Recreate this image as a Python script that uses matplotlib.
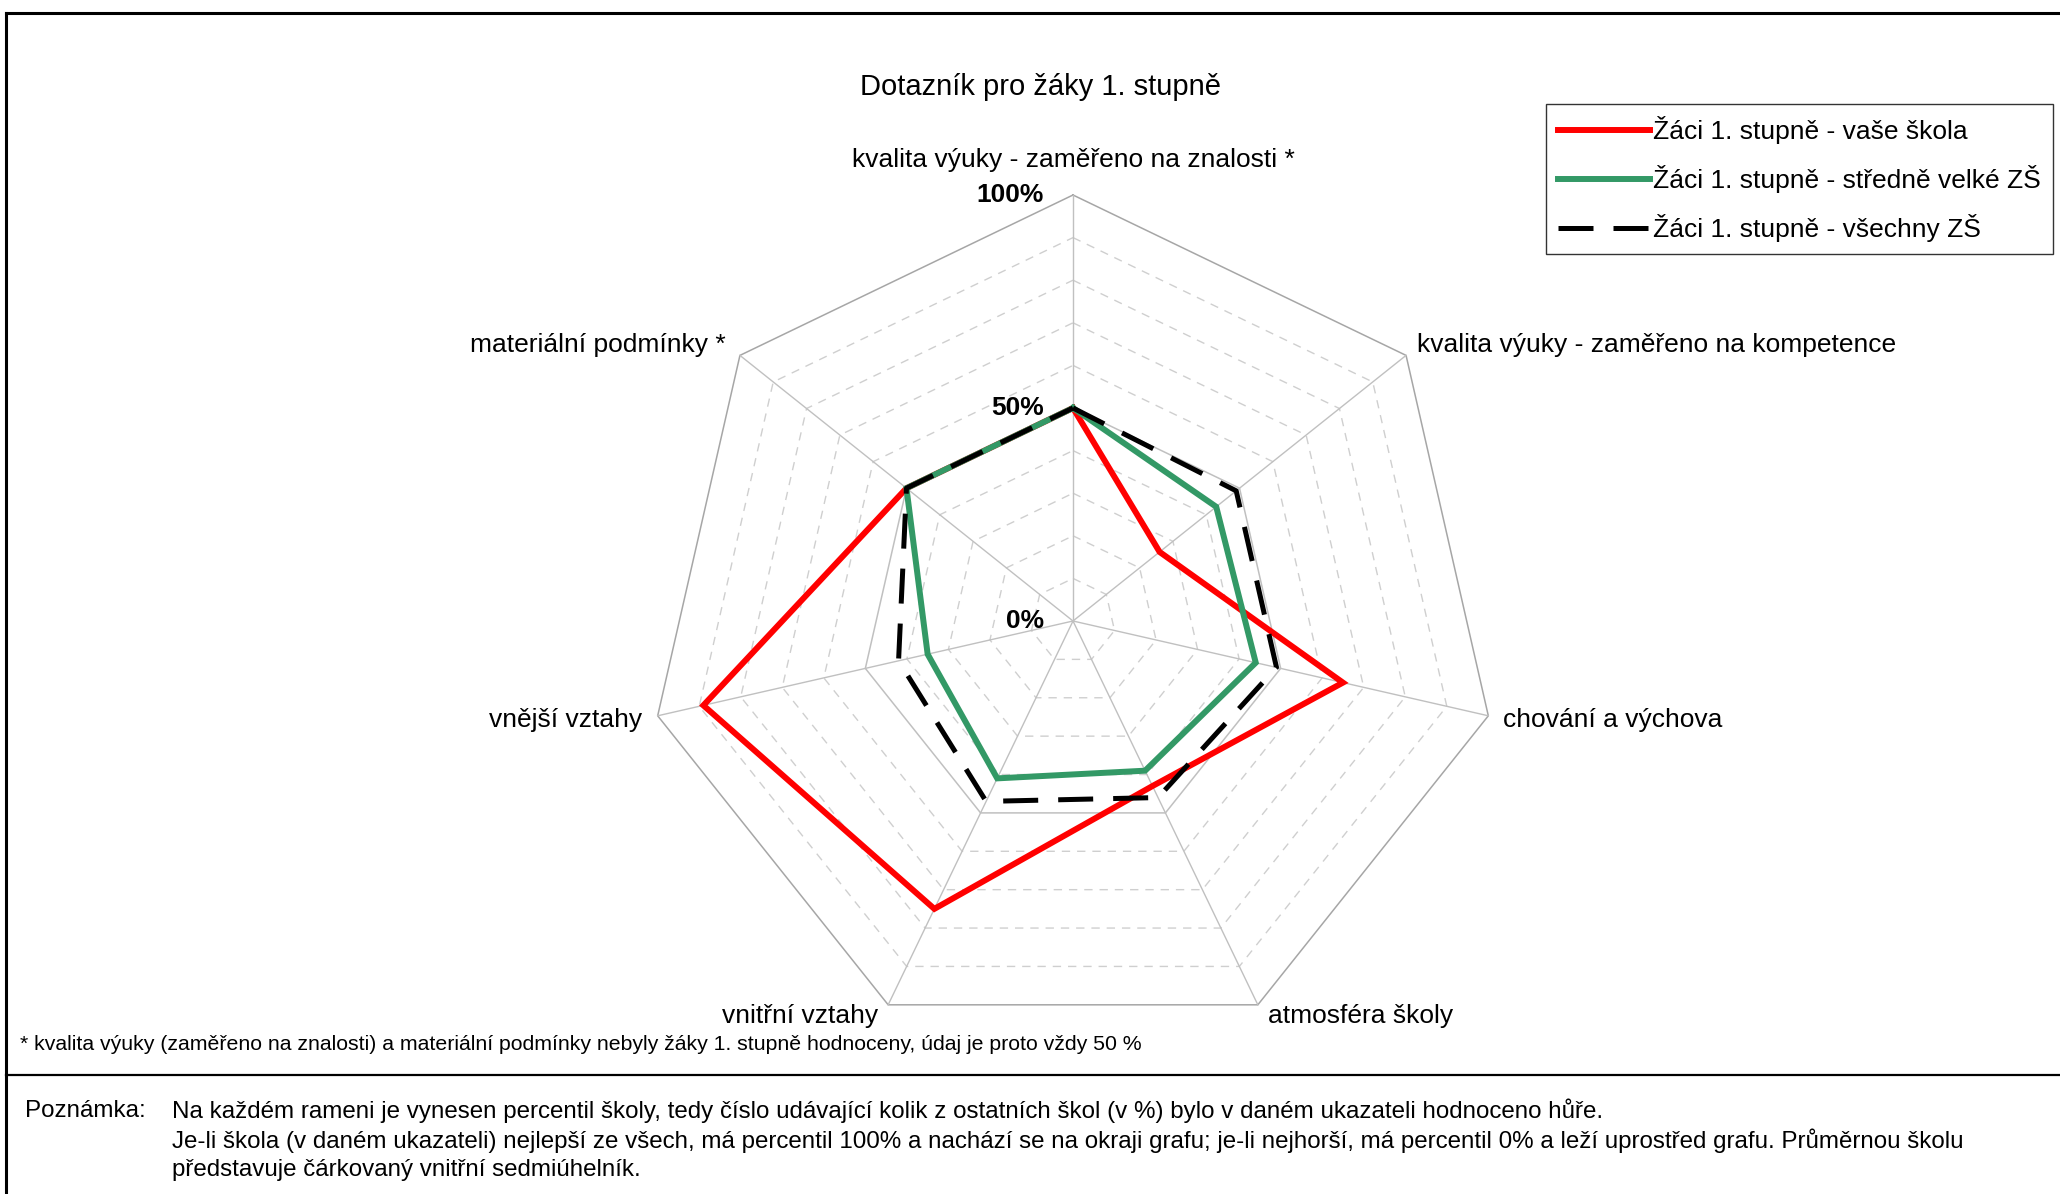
import numpy as np
import matplotlib.pyplot as plt
from matplotlib.lines import Line2D

plt.rcParams['font.family'] = ['Liberation Sans', 'DejaVu Sans']

categories = ['kvalita výuky - zaměřeno na znalosti *',
              'kvalita výuky - zaměřeno na kompetence',
              'chování a výchova',
              'atmosféra školy',
              'vnitřní vztahy',
              'vnější vztahy',
              'materiální podmínky *']
vase_skola = [50, 26, 65, 43, 75, 89, 50]
stredne_velke = [50, 43, 44, 39, 41, 35, 50]
vsechny_zs = [50, 49, 49, 46, 47, 42, 50]
series_names = ['Žáci 1. stupně - vaše škola',
                'Žáci 1. stupně - středně velké ZŠ',
                'Žáci 1. stupně - všechny ZŠ']
ring_levels = [10, 20, 30, 40, 50, 60, 70, 80, 90, 100]
tick_labels = {0: '0%', 50: '50%', 100: '100%'}

W, H = 2060, 1194
fig = plt.figure(figsize=(W / 100, H / 100), dpi=100)

# radar axes: centre at (1073, 621) px, radius 426 px for 100 %
cx, cy, R = 1073, 621, 426
span = 1.3
size = 2 * span * R
ax = fig.add_axes([(cx - size / 2) / W, (H - cy - size / 2) / H, size / W, size / H])
ax.set_xlim(-span, span)
ax.set_ylim(-span, span)
ax.axis('off')

n = len(categories)
ang = np.arange(n) * 2 * np.pi / n
ux, uy = np.sin(ang), np.cos(ang)


def xy(vals):
    r = np.asarray(vals, dtype=float) / 100.
    x = np.append(r * ux, r[0] * ux[0])
    y = np.append(r * uy, r[0] * uy[0])
    return x, y


# grid rings
for lv in ring_levels:
    gx, gy = xy([lv] * n)
    if lv == 100:
        ax.plot(gx, gy, color='#a6a6a6', lw=1.1, zorder=1)
    elif lv == 50:
        ax.plot(gx, gy, color='#c0c0c0', lw=1.1, zorder=1)
    else:
        ax.plot(gx, gy, color='#cfcfcf', lw=1.0, ls=(0, (6, 5)), zorder=1)
for i in range(n):
    ax.plot([0, ux[i]], [0, uy[i]], color='#c0c0c0', lw=1.0, zorder=1)

# series (later series on top, like the original)
red_c, green_c = '#ff0000', '#339966'
dash = (0, (7, 4))
x, y = xy(vase_skola)
ax.plot(x, y, color=red_c, lw=4.3, zorder=2, solid_joinstyle='miter')
x, y = xy(stredne_velke)
ax.plot(x, y, color=green_c, lw=4.3, zorder=3, solid_joinstyle='miter')
x, y = xy(vsechny_zs)
ax.plot(x, y, color='black', lw=3.6, ls=dash, zorder=4)

# value ticks on the top spoke
for v, t in tick_labels.items():
    ax.annotate(t, (0, v / 100.), xytext=(-29, 0), textcoords='offset pixels',
                ha='right', va='center', fontsize=19, fontweight='bold')

# category labels
offs = [(0, 35, 'center', 'center'),
        (11, 10, 'left', 'center'),
        (15, -4, 'left', 'center'),
        (10, -11, 'left', 'center'),
        (-10, -11, 'right', 'center'),
        (-16, -4, 'right', 'center'),
        (-14, 10, 'right', 'center')]
for i, lab in enumerate(categories):
    dx, dy, ha, va = offs[i]
    ax.annotate(lab, (ux[i], uy[i]), xytext=(dx, dy), textcoords='offset pixels',
                ha=ha, va=va, fontsize=19)

# title
fig.text(1041 / W, 1 - 87 / H, 'Dotazník pro žáky 1. stupně', ha='center', va='center', fontsize=21)

# legend
handles = [Line2D([], [], color=red_c, lw=4.3),
           Line2D([], [], color=green_c, lw=4.3),
           Line2D([], [], color='black', lw=3.6, ls=dash)]
leg = fig.legend(handles, series_names, loc='upper left',
                 bbox_to_anchor=(1546 / W, 1 - 104 / H), fontsize=19,
                 frameon=True, fancybox=False, handlelength=3.5, handletextpad=0.1,
                 labelspacing=0.8, borderpad=0.45, borderaxespad=0)
leg.get_frame().set_edgecolor('black')
leg.get_frame().set_linewidth(1.0)

# frame lines
fig.add_artist(Line2D([6 / W, 1], [1 - 13 / H, 1 - 13 / H], color='black', lw=2.2))
fig.add_artist(Line2D([6 / W, 6 / W], [0, 1 - 13 / H], color='black', lw=2.2))
fig.add_artist(Line2D([6 / W, 1], [1 - 1075 / H, 1 - 1075 / H], color='black', lw=1.6))

# footnote and note
fig.text(20 / W, 1 - 1044 / H,
         '* kvalita výuky (zaměřeno na znalosti) a materiální podmínky nebyly žáky 1. stupně hodnoceny, údaj je proto vždy 50 %',
         ha='left', va='center', fontsize=15.3)
fig.text(25 / W, 1 - 1111 / H, 'Poznámka:', ha='left', va='center', fontsize=17.4)
note_lines = ['Na každém rameni je vynesen percentil školy, tedy číslo udávající kolik z ostatních škol (v %) bylo v daném ukazateli hodnoceno hůře.',
              'Je-li škola (v daném ukazateli) nejlepší ze všech, má percentil 100% a nachází se na okraji grafu; je-li nejhorší, má percentil 0% a leží uprostřed grafu. Průměrnou školu',
              'představuje čárkovaný vnitřní sedmiúhelník.']
for k, line in enumerate(note_lines):
    fig.text(172 / W, 1 - (1111 + 29.6 * k) / H, line, ha='left', va='center', fontsize=17.4)

fig.savefig('out.png', dpi=100)
